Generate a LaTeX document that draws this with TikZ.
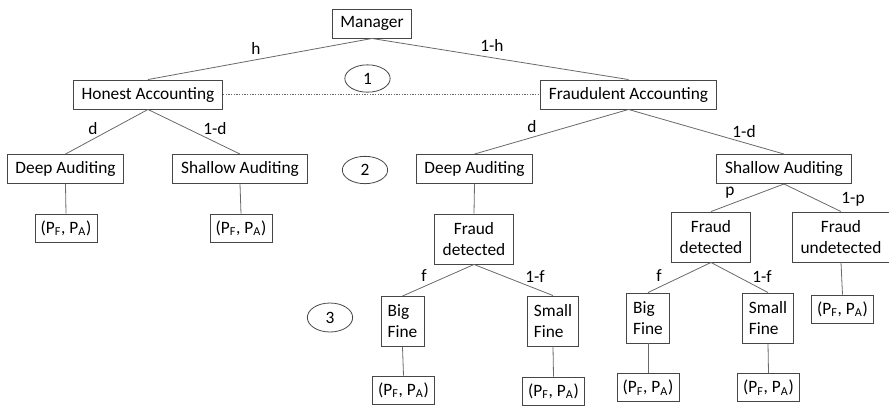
\documentclass[tikz,border=0pt]{standalone}
\usepackage{fontspec}
\setmainfont{Carlito}
\usepackage{tikz}
\usetikzlibrary{shapes.geometric}
\definecolor{linegray}{RGB}{105,105,105}
\definecolor{boxgray}{RGB}{70,70,70}
\newcommand{\pfpa}{(P\textsubscript{F}, P\textsubscript{A})}

\begin{document}
\begin{tikzpicture}[x=0.75pt, y=-0.75pt,
    every node/.style={font=\fontsize{13}{15.75}\selectfont},
    box/.style={rectangle, draw=boxgray, line width=0.7pt, inner xsep=6.2pt, minimum height=21.75pt},
    twoline/.style={box, align=center, inner ysep=3pt, minimum height=37.5pt},
    fine/.style={box, align=left, inner xsep=5pt, inner ysep=3pt, minimum height=37.5pt},
    pay/.style={box, inner xsep=4pt, minimum height=21pt, minimum width=46.5pt},
    stage/.style={ellipse, draw=boxgray, line width=0.6pt, minimum width=34pt, minimum height=20.5pt, inner sep=0pt},
    conn/.style={draw=linegray, line width=0.6pt},
    lbl/.style={inner sep=0pt}
]
    \useasboundingbox (0,0) rectangle (889,405);

    \node[box] (mgr) at (372,23.5) {Manager};
    \node[box] (hon) at (148,94.5) {Honest Accounting};
    \node[box] (fra) at (628.5,94.5) {Fraudulent Accounting};
    \node[box] (hdeep) at (65.5,169) {Deep Auditing};
    \node[box] (hshal) at (240,169) {Shallow Auditing};
    \node[box] (fdeep) at (474.5,169) {Deep Auditing};
    \node[box] (fshal) at (784,169) {Shallow Auditing};

    \node[pay] (p1) at (66,228) {\pfpa};
    \node[pay] (p2) at (241,228) {\pfpa};

    \node[twoline] (det1) at (474,239) {Fraud\\detected};
    \node[twoline] (det2) at (711,237) {Fraud\\detected};
    \node[twoline] (undet) at (841,237) {Fraud\\undetected};
    \node[pay] (p3) at (842.5,309) {\pfpa};

    \node[fine] (big1) at (402.5,321.5) {Big\\Fine};
    \node[fine] (small1) at (553,321) {Small\\Fine};
    \node[fine] (big2) at (648,318) {Big\\Fine};
    \node[fine] (small2) at (768,318) {Small\\Fine};

    \node[pay] (p4) at (403.5,390) {\pfpa};
    \node[pay] (p5) at (553.5,391) {\pfpa};
    \node[pay] (p6) at (648,387.5) {\pfpa};
    \node[pay] (p7) at (768.5,387.5) {\pfpa};

    \node[stage] (s1) at (367.5,78.5) {1};
    \node[stage] (s2) at (365,170) {2};
    \node[stage, minimum height=21.75pt] (s3) at (330,317.5) {3};

    \draw[conn] (mgr.south) -- (hon.north);
    \draw[conn] (mgr.south) -- (fra.north);
    \draw[conn, dash pattern=on 1pt off 1pt, line width=0.5pt] (hon.east) -- (fra.west);
    \draw[conn] (hon.south) -- (hdeep.north);
    \draw[conn] (hon.south) -- (hshal.north);
    \draw[conn] (fra.south) -- (fdeep.north);
    \draw[conn] (fra.south) -- (fshal.north);
    \draw[conn] (hdeep.south) -- (p1.north);
    \draw[conn] (hshal.south) -- (p2.north);
    \draw[conn] (fdeep.south) -- (det1.north);
    \draw[conn] (fshal.south) -- (det2.north);
    \draw[conn] (fshal.south) -- (undet.north);
    \draw[conn] (undet.south) -- (p3.north);
    \draw[conn] (det1.south) -- (big1.north);
    \draw[conn] (det1.south) -- (small1.north);
    \draw[conn] (det2.south) -- (big2.north);
    \draw[conn] (det2.south) -- (small2.north);
    \draw[conn] (big1.south) -- (p4.north);
    \draw[conn] (small1.south) -- (p5.north);
    \draw[conn] (big2.south) -- (p6.north);
    \draw[conn] (small2.south) -- (p7.north);

    \node[lbl] (lh) at (256,48) {h};
    \node[lbl] (lnh) at (492,45) {1-h};
    \node[lbl] (ld1) at (93,129) {d};
    \node[lbl] (lnd1) at (215,129) {1-d};
    \node[lbl] (ld2) at (532,127) {d};
    \node[lbl] (lnd2) at (744,132) {1-d};
    \node[lbl] (lp) at (730,193) {p};
    \node[lbl] (lnp) at (853,199) {1-p};
    \node[lbl] (lf1) at (424,276) {f};
    \node[lbl] (lnf1) at (535,277) {1-f};
    \node[lbl] (lf2) at (659,276) {f};
    \node[lbl] (lnf2) at (762,277) {1-f};
\end{tikzpicture}
\end{document}
